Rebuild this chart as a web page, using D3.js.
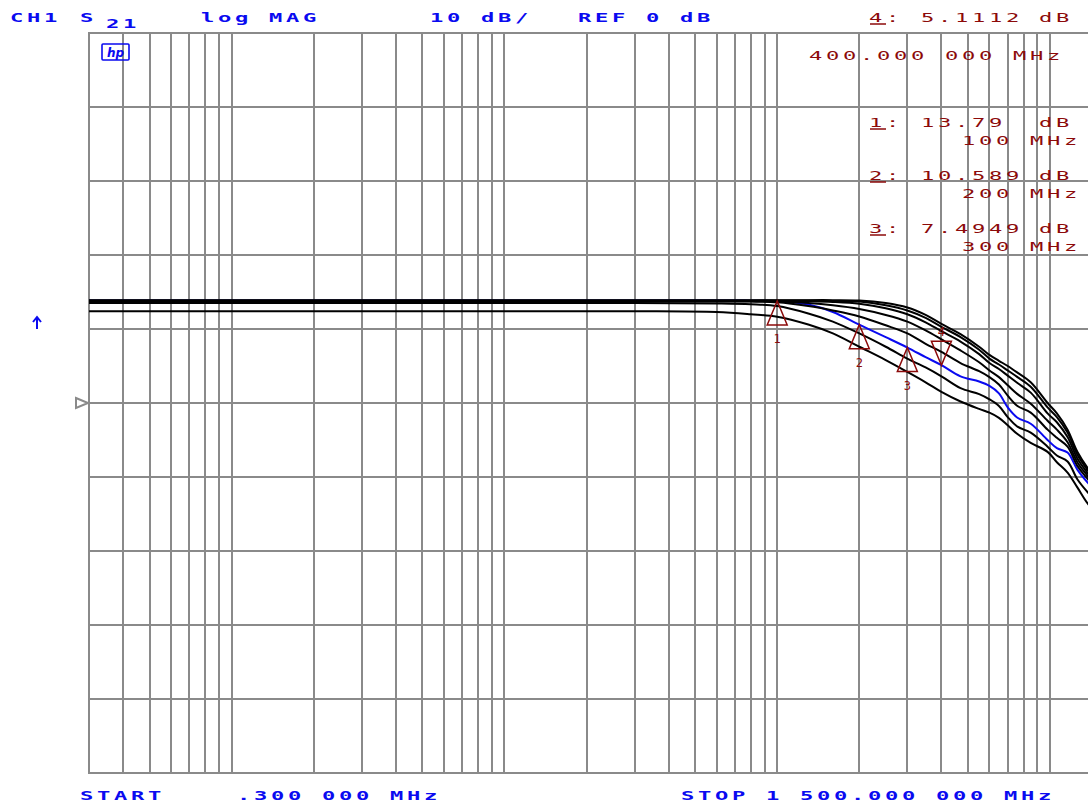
<!DOCTYPE html>
<html><head><meta charset="utf-8">
<script src="https://cdn.jsdelivr.net/npm/d3@7"></script>
<style>
html,body{margin:0;padding:0;background:#fff;}
svg{display:block;}
</style></head>
<body>
<svg id="chart" width="1088" height="805"></svg>
<script>
// Sweep frequencies (MHz) shared by every trace
const freqMHz = [0.3, 1, 3, 10, 30, 60, 80, 100, 130, 160, 200, 250, 300, 350, 400, 470, 550, 600, 650, 700, 760, 850, 980, 1060, 1160, 1260, 1370, 1500];

// |S21| in dB for each stored trace (black) and the live trace (blue)
const trace1 = [13.9, 13.9, 13.9, 13.9, 13.9, 13.9, 13.9, 13.9, 13.9, 13.9, 13.85, 13.5, 12.9, 11.9, 10.7, 9.3, 7.6, 6.5, 5.7, 5.0, 4.1, 2.8, 0.0, -1.4, -3.6, -6.6, -8.7, -10.4];
const trace2 = [13.85, 13.85, 13.85, 13.85, 13.85, 13.85, 13.85, 13.85, 13.85, 13.8, 13.7, 13.2, 12.5, 11.5, 10.3, 8.9, 7.2, 6.0, 5.2, 4.4, 3.5, 2.2, -0.6, -1.9, -4.0, -7.0, -9.0, -10.8];
const trace3 = [13.8, 13.8, 13.8, 13.8, 13.8, 13.8, 13.8, 13.8, 13.75, 13.65, 13.4, 12.8, 12.0, 10.9, 9.7, 8.3, 6.6, 5.4, 4.6, 3.7, 2.7, 1.4, -1.4, -2.6, -4.6, -7.5, -9.4, -11.2];
const trace4 = [13.75, 13.75, 13.75, 13.75, 13.75, 13.75, 13.75, 13.7, 13.5, 13.2, 12.7, 11.9, 11.0, 9.8, 8.6, 7.1, 5.5, 4.4, 3.5, 2.4, 1.2, -0.1, -2.4, -3.6, -5.3, -8.0, -9.8, -11.6];
const trace5 = [13.7, 13.7, 13.7, 13.7, 13.7, 13.7, 13.7, 13.6, 13.1, 12.5, 11.7, 10.5, 9.4, 8.0, 6.9, 5.4, 4.3, 3.5, 2.5, 1.0, -0.4, -1.3, -3.6, -4.7, -5.9, -8.5, -10.2, -12.0];
const liveTrace = [13.85, 13.85, 13.85, 13.85, 13.85, 13.85, 13.83, 13.79, 13.3, 12.3, 10.589, 8.9, 7.4949, 6.2, 5.1112, 3.6, 2.9, 2.3, 1.3, -0.6, -2.0, -2.8, -5.0, -6.1, -6.7, -9.0, -10.7, -12.3];
const trace7 = [13.5, 13.5, 13.5, 13.5, 13.5, 13.45, 13.35, 13.1, 12.1, 11.0, 9.4, 7.6, 6.0, 4.8, 3.6, 2.0, 1.2, 0.5, -0.4, -1.9, -3.2, -4.0, -5.9, -7.1, -7.9, -10.3, -12.0, -13.6];
const trace8 = [12.4, 12.4, 12.4, 12.4, 12.4, 12.3, 12.0, 11.66, 10.6, 9.4, 7.6, 5.8, 4.2, 2.8, 1.5, 0.2, -0.8, -1.3, -2.0, -3.0, -4.2, -5.4, -6.6, -8.0, -9.4, -11.4, -13.5, -15.2];

// Markers on the live trace
const markerIds = ["1", "2", "3", "4"];
const markerFreqs = [100, 200, 300, 400];
const markerValues = [13.79, 10.589, 7.4949, 5.1112];
const markerValueText = ["13.79", "10.589", "7.4949", "5.1112"];
const markerFreqText = ["100", "200", "300", "400.000 000"];

// Graticule
const dbLines = [-50, -40, -30, -20, -10, 0, 10, 20, 30, 40, 50];
const freqLines = [0.4, 0.5, 0.6, 0.7, 0.8, 0.9, 1, 2, 3, 4, 5, 6, 7, 8, 9, 10, 20, 30, 40, 50, 60, 70, 80, 90, 100, 200, 300, 400, 500, 600, 700, 800, 900, 1000];

const BLUE = "#0a0af0", RED = "#8c0a0a", GRID = "#8a8a8a";

const svg = d3.select("#chart");
const x = d3.scaleLog().domain([0.3, 1500]).range([89, 1098]);
const y = d3.scaleLinear().domain([-50, 50]).range([773, 33]);

// grid
const grid = svg.append("g").attr("stroke", GRID).attr("stroke-width", 2).attr("fill", "none");
grid.selectAll("line.v").data(freqLines).join("line").attr("class", "v")
  .attr("x1", d => Math.round(x(d))).attr("x2", d => Math.round(x(d)))
  .attr("y1", y(50)).attr("y2", y(-50));
grid.selectAll("line.h").data(dbLines).join("line").attr("class", "h")
  .attr("x1", x(0.3)).attr("x2", x(1500))
  .attr("y1", d => y(d)).attr("y2", d => y(d));
grid.append("line").attr("x1", x(0.3)).attr("x2", x(0.3)).attr("y1", y(50) - 1).attr("y2", y(-50) + 1);

// reference position marker
svg.append("polygon")
  .attr("points", `${x(0.3) - 13},${y(0) - 5} ${x(0.3) - 1},${y(0)} ${x(0.3) - 13},${y(0) + 5}`)
  .attr("fill", "none").attr("stroke", GRID).attr("stroke-width", 2);

// traces: live (blue) trace underneath the stored ones
const traces = [
  {v: liveTrace, c: BLUE},
  {v: trace1, c: "#000"}, {v: trace2, c: "#000"}, {v: trace3, c: "#000"},
  {v: trace4, c: "#000"}, {v: trace5, c: "#000"},
  {v: trace7, c: "#000"}, {v: trace8, c: "#000"}
];
const line = d3.line().x((d, i) => x(freqMHz[i])).y(d => y(d)).curve(d3.curveCatmullRom.alpha(0.5));
svg.append("g").selectAll("path").data(traces).join("path")
  .attr("d", d => line(d.v)).attr("fill", "none")
  .attr("stroke", d => d.c).attr("stroke-width", 2).attr("stroke-linejoin", "round");

// plotter-style lettering: monospaced, widened, fixed 17px pitch
function label(str, px, py, color, bold) {
  const sx = 1.7, fs = 13;
  const g = svg.append("g").attr("transform", `translate(${px},${py}) scale(${sx},1)`);
  return g.append("text").text(str)
    .attr("font-family", "'DejaVu Sans Mono', 'Liberation Mono', monospace")
    .attr("font-size", fs).attr("fill", color)
    .attr("font-weight", bold ? "bold" : "normal")
    .attr("letter-spacing", 17 / sx - fs * 0.602)
    .style("white-space", "pre");
}

// header
label("CH1", 10, 22, BLUE, true);
label("S", 80, 22, BLUE, true);
label("21", 106, 28, BLUE, true);
label("log MAG", 201, 22, BLUE, true);
label("10 dB/", 430, 22, BLUE, true);
label("REF 0 dB", 578, 22, BLUE, true);

// marker readout line: "n:  value  dB"
function markerLine(id, valueText, py) {
  label(id + ":", 869, py, RED, false);
  svg.append("line").attr("x1", 870).attr("x2", 886).attr("y1", py + 2).attr("y2", py + 2)
    .attr("stroke", RED).attr("stroke-width", 1.5);
  label(valueText, 921, py, RED, false);
  label("dB", 1039, py, RED, false);
}
// active marker
markerLine(markerIds[3], markerValueText[3], 22);
label(markerFreqText[3] + " MHz", 809, 60, RED, false);

// marker table
const rowY = [127, 180, 233];
for (let i = 0; i < 3; i++) {
  markerLine(markerIds[i], markerValueText[i], rowY[i]);
  label(markerFreqText[i] + " MHz", 962, rowY[i] + 18, RED, false);
}

// footer
label("START", 80, 800, BLUE, true);
label(".300 000 MHz", 237, 800, BLUE, true);
label("STOP 1 500.000 000 MHz", 681, 800, BLUE, true);

// hp logo
const logo = svg.append("g").attr("transform", "translate(102,44)");
logo.append("rect").attr("width", 27).attr("height", 16).attr("fill", "none")
  .attr("stroke", BLUE).attr("stroke-width", 1.6).attr("rx", 1);
logo.append("text").text("hp").attr("x", 13.5).attr("y", 12.5).attr("text-anchor", "middle")
  .attr("font-family", "'DejaVu Sans', sans-serif").attr("font-size", 12)
  .attr("font-weight", "bold").attr("font-style", "italic").attr("fill", BLUE);

// scale-change arrow
svg.append("path").attr("d", "M37,329 L37,318 M33,322 L37,317 L41,322")
  .attr("fill", "none").attr("stroke", BLUE).attr("stroke-width", 2);

// marker symbols on the live trace
const mk = svg.append("g").attr("fill", "none").attr("stroke", RED).attr("stroke-width", 1.5);
markerIds.forEach((id, i) => {
  const mx = x(markerFreqs[i]), my = y(markerValues[i]);
  const active = i === 3;
  const h = 24, w = 10;
  const by = active ? my - h : my + h;
  mk.append("polygon").attr("points", `${mx},${my} ${mx - w},${by} ${mx + w},${by}`);
  svg.append("text").text(id).attr("x", mx).attr("y", active ? by - 5 : by + 18)
    .attr("text-anchor", "middle").attr("fill", RED)
    .attr("font-family", "'DejaVu Sans Mono', monospace").attr("font-size", 12);
});
</script>
</body></html>
